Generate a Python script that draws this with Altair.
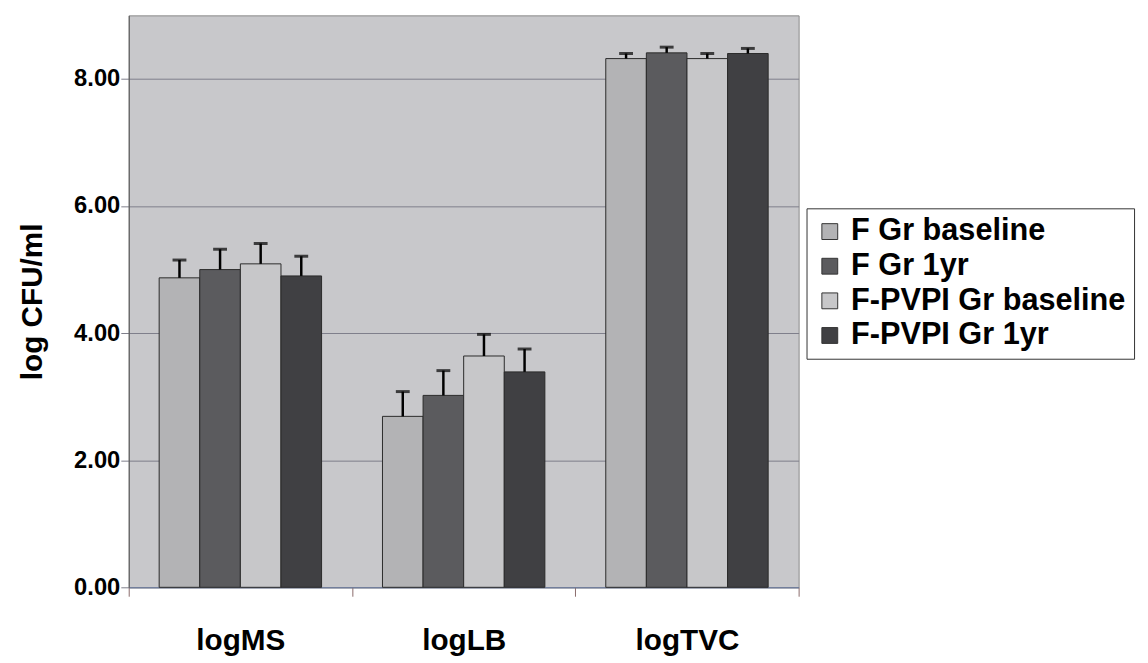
import altair as alt
import pandas as pd

categories = ["logMS", "logLB", "logTVC"]
groups = ["F Gr baseline", "F Gr 1yr", "F-PVPI Gr baseline", "F-PVPI Gr 1yr"]
means = {
    "F Gr baseline":      [4.87, 2.69, 8.32],
    "F Gr 1yr":           [5.00, 3.02, 8.41],
    "F-PVPI Gr baseline": [5.09, 3.64, 8.32],
    "F-PVPI Gr 1yr":      [4.90, 3.39, 8.40],
}
errors = {
    "F Gr baseline":      [0.28, 0.39, 0.08],
    "F Gr 1yr":           [0.32, 0.39, 0.09],
    "F-PVPI Gr baseline": [0.32, 0.34, 0.08],
    "F-PVPI Gr 1yr":      [0.31, 0.36, 0.08],
}
colors = ["#b3b3b5", "#5b5b5e", "#c7c7c9", "#404043"]

rows = []
for g in groups:
    for i, c in enumerate(categories):
        rows.append({"cat": c, "grp": g, "mean": means[g][i], "upper": means[g][i] + errors[g][i]})
df = pd.DataFrame(rows)

FONT = "Liberation Sans"

x = alt.X("cat:N", sort=categories, title=None,
          scale=alt.Scale(paddingInner=0, paddingOuter=0),
          axis=alt.Axis(labelFont=FONT, labelFontSize=30, labelFontWeight="bold",
                        labelColor="black", labelPadding=30, tickBand="extent",
                        tickSize=9, tickColor="#8a6a6a", domainColor="#6a7aa0",
                        labelAngle=0))
xo = alt.XOffset("grp:N", sort=groups, scale=alt.Scale(paddingOuter=0.75, paddingInner=0))
yscale = alt.Scale(domain=[0, 9], nice=False)

bars = alt.Chart(df).mark_bar(stroke="#2a2a2a", strokeWidth=1).encode(
    x=x, xOffset=xo,
    y=alt.Y("mean:Q", scale=yscale, title="log CFU/ml",
            axis=alt.Axis(values=[0, 2, 4, 6, 8], format=".2f", grid=True,
                          gridColor="#7d7d8a", gridWidth=1, tickSize=8,
                          tickColor="#7d7d8a", domainColor="#555",
                          labelFont=FONT, labelFontSize=24, labelFontWeight="bold",
                          labelColor="black", labelPadding=1,
                          titleFont=FONT, titleFontSize=30, titleFontWeight="bold",
                          titleColor="black", titlePadding=26)),
    color=alt.Color("grp:N", sort=groups, title=None,
                    scale=alt.Scale(domain=groups, range=colors),
                    legend=alt.Legend(orient="none", legendX=685, legendY=195,
                                      symbolType="square", symbolSize=256,
                                      symbolStrokeColor="#333", symbolStrokeWidth=1,
                                      labelFont=FONT, labelFontSize=31,
                                      labelFontWeight="bold", labelColor="black",
                                      labelOffset=6,
                                      rowPadding=3, padding=8,
                                      strokeColor="#333", fillColor="white",
                                      labelLimit=400)),
)

rules = alt.Chart(df).mark_rule(color="black", strokeWidth=2.5).encode(
    x=x, xOffset=xo, y=alt.Y("mean:Q", scale=yscale), y2="upper:Q")

caps = alt.Chart(df).mark_tick(color="black", thickness=3, size=14, orient="horizontal").encode(
    x=x, xOffset=xo, y=alt.Y("upper:Q", scale=yscale))

chart = (bars + rules + caps).properties(
    width=677, height=578,
    autosize=alt.AutoSizeParams(type="none"),
    padding={"left": 122, "top": 4, "right": 345, "bottom": 70},
).configure_view(fill="#c8c8cb", stroke="#8a8a8a", strokeWidth=1)

chart.save("out.html", embed_options={"renderer": "svg", "actions": False})
